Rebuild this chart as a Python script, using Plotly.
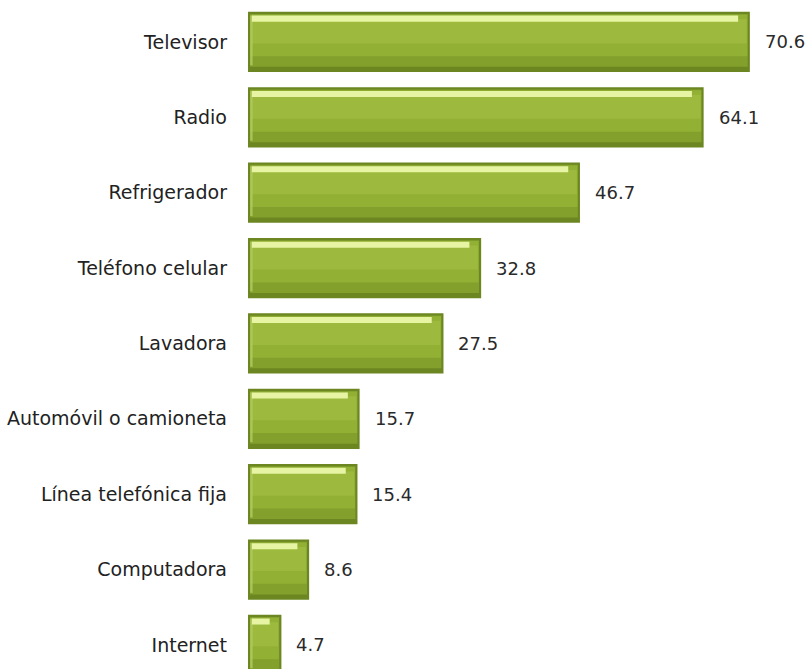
import plotly.graph_objects as go

# Household goods and services (percent of households)
categories = ["Televisor", "Radio", "Refrigerador", "Teléfono celular", "Lavadora",
              "Automóvil o camioneta", "Línea telefónica fija", "Computadora", "Internet"]
values = [70.6, 64.1, 46.7, 32.8, 27.5, 15.7, 15.4, 8.6, 4.7]

rim = "#6c8722"
lower = "#82a02b"
body = "#92b034"
upper = "#9dba3e"
bevel = "#b4cc62"
shine = "#e6f4a4"

FONT = "DejaVu Sans, Arial"

fig = go.Figure()


def layer(x, base, width, offset, color, opacity=1.0):
    fig.add_trace(go.Bar(y=categories, x=x, base=base, orientation="h",
                         width=width, offset=offset, opacity=opacity,
                         marker=dict(color=color, line=dict(width=0)),
                         hoverinfo="skip"))


# dark rim of each bar
layer(values, 0, 0.8, -0.4, rim)
# shaded lower face
layer([v - 0.6 for v in values], 0.3, 0.7, -0.37, lower)
# main face
layer([v - 0.7 for v in values], 0.35, 0.55, -0.36, body)
# lighter upper face
layer([v - 0.9 for v in values], 0.45, 0.32, -0.3, upper)
# bevel on the left end
layer([0.35] * len(values), 0.3, 0.66, -0.35, bevel, 0.8)
# glossy highlight along the top
layer([max(v - 2.2, 0.6) for v in values], 0.55, 0.08, -0.35, shine)

for c, v in zip(categories, values):
    fig.add_annotation(x=v, y=c, text=f"{v:.1f}", showarrow=False, xanchor="left",
                       xshift=13, font=dict(family=FONT, size=18, color="#2a2a2a"))

fig.update_layout(
    width=806, height=669,
    margin=dict(l=248, r=0, t=0, b=0),
    paper_bgcolor="white", plot_bgcolor="white",
    barmode="overlay", showlegend=False,
    xaxis=dict(range=[0, 78.5], visible=False),
    yaxis=dict(categoryorder="array", categoryarray=categories,
               range=[8.32, -0.557], showgrid=False, showline=False, ticks="",
               ticklabelstandoff=20,
               tickfont=dict(family=FONT, size=19, color="#222222")),
)

fig.write_html("out.html")
